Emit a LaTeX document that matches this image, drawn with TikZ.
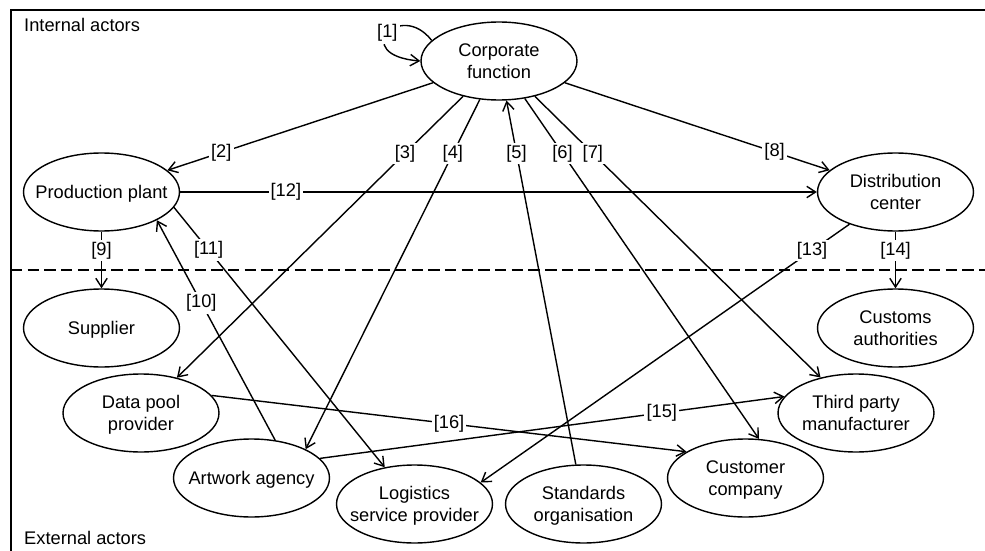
\documentclass[tikz,border=0pt]{standalone}
\usepackage{fontspec}
\setmainfont{Liberation Sans}
\usetikzlibrary{arrows.meta, shapes.geometric}
\tikzset{
  actor/.style={ellipse, draw, line width=0.8pt, inner sep=0pt,
    minimum width=3.12cm, minimum height=1.56cm},
  flow/.style={-{Straight Barb[length=5pt,width=6.5pt]}, line width=0.8pt},
  num/.style={fill=white, inner sep=1.2pt}
}
\newcommand{\actortext}[1]{\makebox[0pt]{\raisebox{-1.2pt}[\height][\depth]{\begin{tabular}{@{}c@{}}#1\end{tabular}}}}

\begin{document}
\begin{tikzpicture}[x=0.02cm, y=-0.02cm, font=\fontsize{10.4}{12.2}\selectfont]
  \useasboundingbox (0,0) rectangle (985,551);
  % frame and internal/external boundary
  \draw[line width=1.1pt] (985,10) -- (11,10) -- (11,551);
  \draw[line width=0.8pt, dash pattern=on 6.5pt off 3pt] (11,270) -- (985,270);
  \node[anchor=west] (intlbl) at (18,25) {Internal actors};
  \node[anchor=west] (extlbl) at (18,538) {External actors};
  % internal actors
  \node[actor] (corp) at (499,61) {\actortext{Corporate\\function}};
  \node[actor] (plant) at (101.5,192) {\actortext{Production plant}};
  \node[actor] (distr) at (895.5,192) {\actortext{Distribution\\center}};
  % external actors
  \node[actor] (supplier) at (101.5,328) {\actortext{Supplier}};
  \node[actor] (customs) at (895.5,328) {\actortext{Customs\\authorities}};
  \node[actor] (datapool) at (141,413) {\actortext{Data pool\\provider}};
  \node[actor] (thirdparty) at (856,413) {\actortext{Third party\\manufacturer}};
  \node[actor] (artwork) at (251.5,478) {\actortext{Artwork agency}};
  \node[actor] (customer) at (745.5,478) {\actortext{Customer\\company}};
  \node[actor] (logistics) at (414.5,504) {\actortext{Logistics\\service provider}};
  \node[actor] (standards) at (583.5,504) {\actortext{Standards\\organisation}};
  % flows
  \draw[flow] (corp.163) .. controls +(-32,-41) and +(-71,-6) .. (corp.west) node[num,pos=0.5]{[1]};
  \draw[flow] (corp) -- (plant) node[num,pos=0.797]{[2]};
  \draw[flow] (corp) -- (datapool) node[num,pos=0.203]{[3]};
  \draw[flow] (corp) -- (artwork.28) node[num,pos=0.155]{[4]};
  \draw[flow] (standards.101) -- (corp) node[num,pos=0.855]{[5]};
  \draw[flow] (corp) -- (customer.71) node[num,pos=0.161]{[6]};
  \draw[flow] (corp) -- (thirdparty.135) node[num,pos=0.203]{[7]};
  \draw[flow] (corp) -- (distr) node[num,pos=0.792]{[8]};
  \draw[flow] (plant) -- (supplier) node[num,pos=0.33]{[9]};
  \draw[flow] (artwork.58) -- (plant.-27) node[num,pos=0.624]{[10]};
  \draw[flow] (plant.-12) -- (logistics.129) node[num,pos=0.164]{[11]};
  \draw[flow] (plant) -- (distr) node[num,pos=0.166]{[12]};
  \draw[flow] (distr.215) -- (logistics.18) node[num,pos=0.1015]{[13]};
  \draw[flow] (distr) -- (customs) node[num,pos=0.33]{[14]};
  \draw[flow] (artwork.16) -- (thirdparty.167) node[num,pos=0.736]{[15]};
  \draw[flow] (datapool.14) -- (customer.156) node[num,pos=0.5]{[16]};
\end{tikzpicture}
\end{document}
